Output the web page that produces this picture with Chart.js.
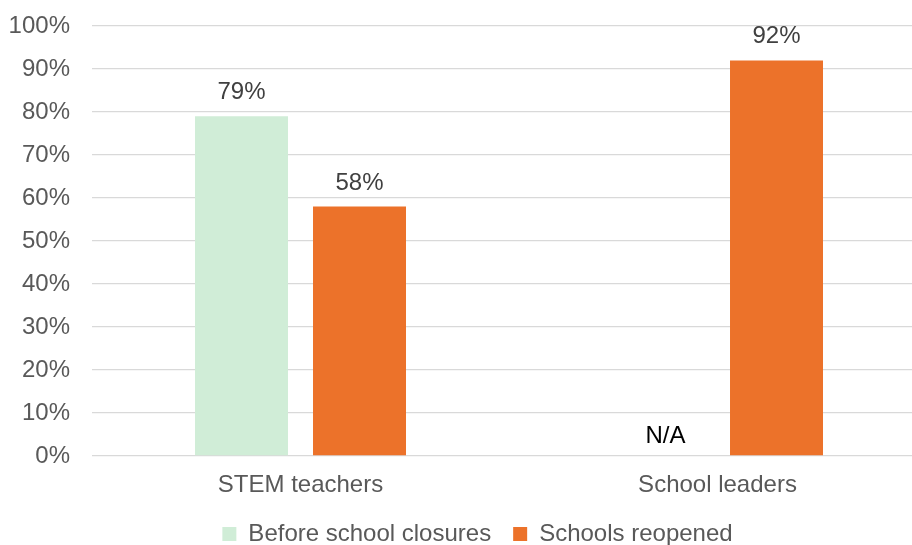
<!DOCTYPE html>
<html>
<head>
<meta charset="utf-8">
<script src="https://cdn.jsdelivr.net/npm/chart.js@4/dist/chart.umd.min.js"></script>
<style>
  html, body { margin: 0; padding: 0; background: #fff; overflow: hidden; }
  #wrap { position: relative; width: 955px; height: 545px; }
</style>
</head>
<body>
<div id="wrap"><canvas id="chart"></canvas></div>
<script>
// Share of respondents, by group and period (null = not asked)
const categories = ['STEM teachers', 'School leaders'];
const beforeClosures = [79, null];
const schoolsReopened = [58, 92];
const seriesNames = ['Before school closures', 'Schools reopened'];
const yTicks = [0, 10, 20, 30, 40, 50, 60, 70, 80, 90, 100];

const FONT = "'Liberation Sans', Arial, sans-serif";
const FONT_SIZE = 24;

// Value labels above each bar; "N/A" where a value is missing
const valueLabels = {
  id: 'valueLabels',
  afterDatasetsDraw(chart) {
    const ctx = chart.ctx;
    const yScale = chart.scales.y;
    ctx.save();
    ctx.font = FONT_SIZE + 'px ' + FONT;
    ctx.textAlign = 'center';
    ctx.textBaseline = 'alphabetic';
    chart.data.datasets.forEach((ds, di) => {
      const meta = chart.getDatasetMeta(di);
      meta.data.forEach((el, i) => {
        const v = ds.data[i];
        if (v === null || v === undefined) {
          ctx.fillStyle = '#000000';
          ctx.fillText('N/A', el.x + 7, yScale.getPixelForValue(0) - 13);
        } else {
          ctx.fillStyle = '#404040';
          ctx.fillText(v + '%', el.x, el.y - 17);
        }
      });
    });
    ctx.restore();
  }
};

// Center the legend on the whole chart width rather than the padded box
const legendSpan = {
  id: 'legendSpan',
  afterLayout(chart) {
    if (chart.legend) {
      chart.legend.left = 0;
      chart.legend.right = chart.width;
    }
  }
};

new Chart(document.getElementById('chart'), {
  type: 'bar',
  data: {
    labels: categories,
    datasets: [
      { label: seriesNames[0], data: beforeClosures, backgroundColor: '#d0edd7' },
      { label: seriesNames[1], data: schoolsReopened, backgroundColor: '#ec722a' }
    ]
  },
  options: {
    responsive: true,
    maintainAspectRatio: false,
    devicePixelRatio: 1,
    animation: false,
    layout: { padding: { top: 26, left: 0, right: 29, bottom: -11 } },
    datasets: { bar: { categoryPercentage: 0.566, barPercentage: 0.788 } },
    scales: {
      x: {
        grid: { display: false, drawTicks: false },
        border: { display: false },
        ticks: { color: '#595959', font: { family: FONT, size: FONT_SIZE }, padding: 15 },
        afterFit(scale) { scale.height = 44; }
      },
      y: {
        min: 0, max: 100,
        afterBuildTicks(scale) { scale.ticks = yTicks.map(v => ({ value: v })); },
        grid: { color: '#d9d9d9', lineWidth: 1.3, drawTicks: false },
        border: { display: false },
        ticks: {
          color: '#595959', font: { family: FONT, size: FONT_SIZE }, padding: 22,
          callback: v => v + '%'
        },
        afterFit(scale) {
          scale.width = 92;
          scale.paddingTop = 0;
          scale.paddingBottom = 0;
        }
      }
    },
    plugins: {
      legend: {
        position: 'bottom',
        labels: {
          boxWidth: 14, boxHeight: 14, padding: 22, color: '#595959',
          font: { family: FONT, size: FONT_SIZE }
        }
      },
      tooltip: { enabled: false }
    }
  },
  plugins: [valueLabels, legendSpan]
});
</script>
</body>
</html>
